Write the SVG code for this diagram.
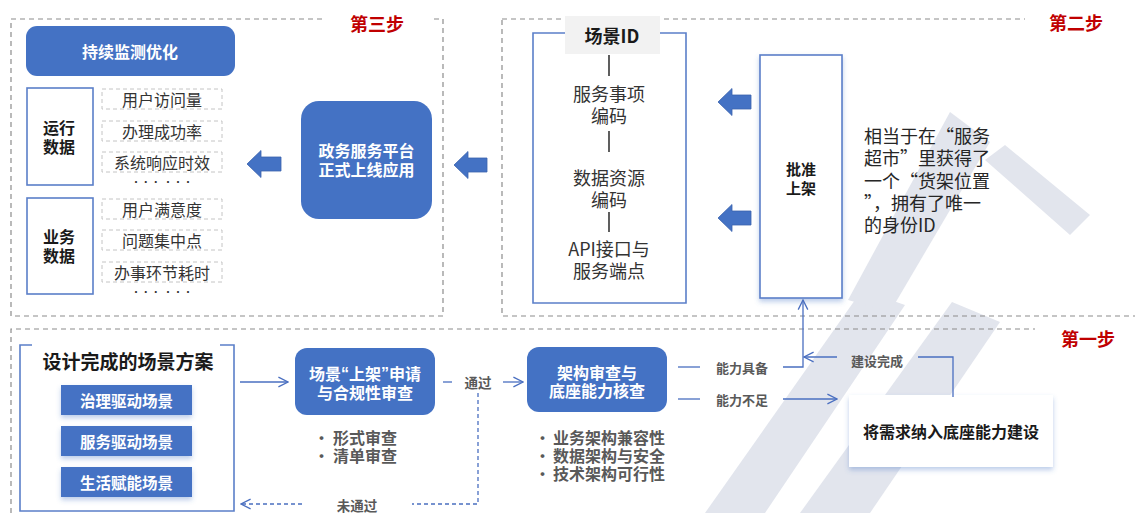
<svg xmlns="http://www.w3.org/2000/svg" width="1135" height="513" viewBox="0 0 1135 513">
<style>
.dash{fill:none;stroke:#8c8c8c;stroke-width:1.2;stroke-dasharray:5 4}
.idash{fill:none;stroke:#c4c4c4;stroke-width:1;stroke-dasharray:4 3}
.blue{fill:#4472c4}
.bbox{fill:#fff;stroke:#5b7fc9;stroke-width:1.6}
.wt{font-family:"Noto Sans CJK SC","Liberation Sans",sans-serif;font-weight:700;fill:#fff;text-anchor:middle;dominant-baseline:central}
.bt{font-family:"Noto Sans CJK SC","Liberation Sans",sans-serif;font-weight:700;fill:#1a1a1a;text-anchor:middle;dominant-baseline:central}
.nt{font-family:"Noto Sans CJK SC","Liberation Sans",sans-serif;font-weight:400;fill:#333;text-anchor:middle;dominant-baseline:central}
.gt{font-family:"Noto Sans CJK SC","Liberation Sans",sans-serif;font-weight:700;fill:#595959;dominant-baseline:central}
.step{font-family:"Noto Sans CJK SC","Liberation Sans",sans-serif;font-weight:700;fill:#c00000;font-size:18px;text-anchor:middle;dominant-baseline:central}
.conn{fill:none;stroke:#4a6fc0;stroke-width:1.3}
.cdash{fill:none;stroke:#4a6fc0;stroke-width:1.3;stroke-dasharray:4 3}
.barrow{fill:#4472c4;stroke:#3a62ad;stroke-width:0.8}
.q{font-family:"Liberation Sans",sans-serif}
</style>
<defs>
<marker id="openbig" viewBox="0 0 10 10" refX="9" refY="5" markerWidth="12" markerHeight="12" markerUnits="userSpaceOnUse" orient="auto">
<path d="M1,1 L9,5 L1,9" fill="none" stroke="#4a6fc0" stroke-width="1.1"/>
</marker>
<filter id="sh" x="-20%" y="-20%" width="140%" height="150%">
<feDropShadow dx="0" dy="3" stdDeviation="2.5" flood-color="#4472c4" flood-opacity="0.35"/>
</filter>
</defs>

<!-- watermark (faint) -->
<g id="watermark" fill="#e2e5ed">
<polygon points="705,513 765,513 905,305 862,290"/>
<polygon points="800,513 870,513 1000,322 952,302"/>
<polygon points="848,300 890,312 990,142 950,112"/>
<polygon points="985,160 1005,145 1090,215 1070,235"/>
</g>

<!-- step frames -->
<g id="frames">
<rect class="dash" x="11" y="19" width="432" height="297"/>
<rect class="dash" x="502" y="19" width="660" height="297"/>
<path class="dash" d="M11,513 L11,329 L1140,329"/>
<rect x="322" y="6" width="108" height="54" fill="#fff"/>
<text class="step" x="377" y="23">第三步</text>
<rect x="1025" y="6" width="110" height="54" fill="#fff"/>
<text class="step" x="1076" y="22">第二步</text>
<rect x="1035" y="320" width="100" height="36" fill="#fff"/>
<text class="step" x="1088" y="338">第一步</text>
</g>

<!-- step 3 -->
<g id="monitor">
<rect class="blue" x="26" y="26" width="209" height="50" rx="11"/>
<text class="wt" x="130" y="51" font-size="16">持续监测优化</text>
</g>
<g id="run-data">
<rect class="bbox" x="27" y="88" width="66" height="97"/>
<text class="bt" x="59" y="127" font-size="16">运行</text>
<text class="bt" x="59" y="146" font-size="16">数据</text>
<rect class="idash" x="102" y="89" width="120" height="20"/>
<text class="nt" x="162" y="99" font-size="16">用户访问量</text>
<rect class="idash" x="102" y="121" width="120" height="20"/>
<text class="nt" x="162" y="131" font-size="16">办理成功率</text>
<rect class="idash" x="102" y="152" width="120" height="20"/>
<text class="nt" x="162" y="162" font-size="16">系统响应时效</text>
<text class="nt" x="162" y="181" font-size="10">··· ···</text>
</g>
<g id="biz-data">
<rect class="bbox" x="27" y="198" width="66" height="96"/>
<text class="bt" x="59" y="236" font-size="16">业务</text>
<text class="bt" x="59" y="255" font-size="16">数据</text>
<rect class="idash" x="102" y="199" width="120" height="20"/>
<text class="nt" x="162" y="209" font-size="16">用户满意度</text>
<rect class="idash" x="102" y="230" width="120" height="20"/>
<text class="nt" x="162" y="240" font-size="16">问题集中点</text>
<rect class="idash" x="102" y="262" width="120" height="20"/>
<text class="nt" x="162" y="272" font-size="16">办事环节耗时</text>
<text class="nt" x="162" y="291" font-size="10">··· ···</text>
</g>
<g id="platform">
<rect class="blue" x="301" y="101" width="131" height="118" rx="18"/>
<text class="wt" x="366.5" y="150" font-size="16">政务服务平台</text>
<text class="wt" x="366.5" y="169" font-size="16">正式上线应用</text>
</g>

<!-- step 2 -->
<g id="scene-id">
<path d="M565,33 L533,33 L533,303 L686,303 L686,33 L660,33" fill="none" stroke="#5b7fc9" stroke-width="1.6"/>
<rect x="565" y="16" width="95" height="38" fill="#f2f2f2"/>
<text class="bt" x="612" y="35" font-size="18">场景ID</text>
<g stroke="#1a1a1a" stroke-width="1.4">
<line x1="609" y1="55" x2="609" y2="76"/>
<line x1="609" y1="131" x2="609" y2="152"/>
<line x1="609" y1="212" x2="609" y2="232"/>
</g>
<text class="nt" x="609" y="93" font-size="18">服务事项</text>
<text class="nt" x="609" y="115" font-size="18">编码</text>
<text class="nt" x="609" y="177" font-size="18">数据资源</text>
<text class="nt" x="609" y="199" font-size="18">编码</text>
<text class="nt" x="609" y="248" font-size="18">API接口与</text>
<text class="nt" x="609" y="270" font-size="18">服务端点</text>
</g>
<g id="approve">
<rect x="760" y="55" width="82" height="243" fill="#fff" stroke="#5b7fc9" stroke-width="1.6" filter="url(#sh)"/>
<text class="bt" x="801" y="168" font-size="15">批准</text>
<text class="bt" x="801" y="187" font-size="15">上架</text>
</g>
<g id="note">
<g font-family="'Noto Sans CJK SC','Liberation Sans',sans-serif" font-size="18" fill="#262626">
<text x="864" y="143">相当于在“服务</text>
<text x="864" y="165">超市”里获得了</text>
<text x="864" y="188">一个“货架位置</text>
<text x="864" y="210">”，拥有了唯一</text>
<text x="864" y="232">的身份ID</text>
</g>
</g>

<!-- step 1 -->
<g id="scheme">
<path d="M32,345 L20,345 L20,511 L234,511 L234,345 L220,345" fill="none" stroke="#5b7fc9" stroke-width="1.6"/>
<text class="bt" x="128" y="360" font-size="19">设计完成的场景方案</text>
<rect class="blue" x="61" y="385" width="131" height="30" filter="url(#sh)"/>
<text class="wt" x="126.5" y="400" font-size="15.5">治理驱动场景</text>
<rect class="blue" x="61" y="426" width="131" height="30" filter="url(#sh)"/>
<text class="wt" x="126.5" y="441" font-size="15.5">服务驱动场景</text>
<rect class="blue" x="61" y="467" width="131" height="30" filter="url(#sh)"/>
<text class="wt" x="126.5" y="482" font-size="15.5">生活赋能场景</text>
</g>
<g id="apply">
<rect class="blue" x="295" y="348" width="140" height="67" rx="12"/>
<text class="wt" x="365" y="373" font-size="16">场景<tspan class="q">“</tspan>上架<tspan class="q">”</tspan>申请</text>
<text class="wt" x="365" y="392" font-size="16">与合规性审查</text>
<text class="gt" x="314" y="437" font-size="15">•</text>
<text class="gt" x="333" y="437" font-size="16">形式审查</text>
<text class="gt" x="314" y="455" font-size="15">•</text>
<text class="gt" x="333" y="455" font-size="16">清单审查</text>
</g>
<g id="arch">
<rect class="blue" x="527" y="347" width="140" height="65" rx="12"/>
<text class="wt" x="597" y="372" font-size="16">架构审查与</text>
<text class="wt" x="597" y="390" font-size="16">底座能力核查</text>
<text class="gt" x="535" y="437" font-size="15">•</text>
<text class="gt" x="553" y="437" font-size="16">业务架构兼容性</text>
<text class="gt" x="535" y="455" font-size="15">•</text>
<text class="gt" x="553" y="455" font-size="16">数据架构与安全</text>
<text class="gt" x="535" y="473" font-size="15">•</text>
<text class="gt" x="553" y="473" font-size="16">技术架构可行性</text>
</g>
<g id="build">
<rect x="849" y="395" width="204" height="72" fill="#fff" filter="url(#sh)"/>
<text class="bt" x="951" y="431" font-size="16" fill="#262626">将需求纳入底座能力建设</text>
</g>

<!-- connectors -->
<g id="connectors">
<path class="barrow" d="M247,164 L261,150.5 L261,157 L281,157 L281,171 L261,171 L261,177.5 Z"/>
<path class="barrow" d="M454,165 L468,151.5 L468,158 L487,158 L487,172 L468,172 L468,178.5 Z"/>
<path class="barrow" d="M718,102 L732,88.5 L732,95 L751,95 L751,109 L732,109 L732,115.5 Z"/>
<path class="barrow" d="M718,218 L732,204.5 L732,211 L751,211 L751,225 L732,225 L732,231.5 Z"/>

<line class="conn" x1="240" y1="382" x2="288" y2="382" marker-end="url(#openbig)"/>
<line class="conn" x1="443" y1="382" x2="452" y2="382"/>
<text class="gt" x="478" y="382" font-size="13.5" text-anchor="middle">通过</text>
<line class="conn" x1="503" y1="382" x2="523" y2="382" marker-end="url(#openbig)"/>
<path class="cdash" d="M478,393 L478,504 L412,504"/>
<line class="cdash" x1="302" y1="504" x2="241" y2="504" marker-end="url(#openbig)"/>
<text class="gt" x="357" y="505" font-size="13.5" text-anchor="middle">未通过</text>

<line class="conn" x1="678" y1="367" x2="700" y2="367"/>
<text class="gt" x="742" y="367" font-size="13" text-anchor="middle">能力具备</text>
<path class="conn" d="M783,367 L803,367 L803,300" marker-end="url(#openbig)"/>
<line class="conn" x1="678" y1="399" x2="700" y2="399"/>
<text class="gt" x="742" y="399" font-size="13" text-anchor="middle">能力不足</text>
<line class="conn" x1="783" y1="399" x2="837" y2="399" marker-end="url(#openbig)"/>
<path class="conn" d="M953,397 L953,357 L918,357"/>
<text class="gt" x="877" y="360" font-size="13" text-anchor="middle">建设完成</text>
<line class="conn" x1="837" y1="357" x2="804" y2="357" marker-end="url(#openbig)"/>
</g>
</svg>
